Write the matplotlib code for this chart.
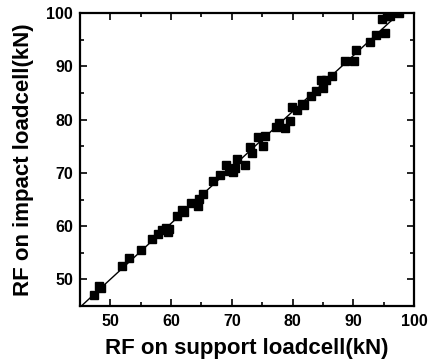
import numpy as np
import matplotlib
matplotlib.use("Agg")
import matplotlib.pyplot as plt
from matplotlib.ticker import MultipleLocator

plt.rcParams.update({
    "font.family": ["Liberation Sans", "DejaVu Sans"],
    "font.weight": "bold",
})

# RF readings (kN): support loadcell vs impact loadcell
rf_support = [47.4, 48.2, 48.4, 52.0, 53.1, 55.0, 56.9, 57.8, 58.5, 59.2,
              59.7, 59.5, 61.0, 61.8, 62.1, 63.3, 64.4, 64.6, 65.3, 66.9,
              68.1, 69.1, 69.5, 70.2, 70.5, 70.8, 72.2, 73.0, 73.3, 74.4,
              75.2, 75.5, 77.2, 77.7, 78.7, 79.6, 79.9, 80.7, 81.5, 81.9,
              83.1, 83.8, 84.7, 85.0, 85.5, 86.5, 88.7, 90.1, 90.4, 92.7,
              93.7, 95.3, 94.8, 95.6, 96.0, 97.5]
rf_impact = [47.1, 48.8, 48.4, 52.6, 54.0, 55.5, 57.6, 58.5, 59.2, 59.6,
             59.5, 58.9, 62.0, 63.0, 62.6, 64.3, 63.8, 65.2, 66.1, 68.4,
             69.6, 71.4, 70.4, 70.1, 71.0, 72.6, 71.5, 74.8, 73.8, 76.8,
             75.1, 76.9, 78.7, 79.3, 78.5, 79.7, 82.4, 81.9, 82.9, 82.7,
             84.4, 85.3, 87.5, 86.0, 87.5, 88.2, 91.1, 91.0, 93.0, 94.5,
             95.9, 96.3, 98.8, 99.4, 99.5, 100.0]

x = np.array(rf_support)
y = np.array(rf_impact)
slope, icpt = np.polyfit(x, y, 1)

fig = plt.figure(figsize=(4.34, 3.64), dpi=100)
ax = fig.add_axes([0.184, 0.159, 0.770, 0.805])

ax.plot(x, y, "s", color="black", ms=6.3, mec="black", zorder=3)
xf = np.array([40.0, 105.0])
ax.plot(xf, slope * xf + icpt, color="black", lw=1.0, zorder=2)

ax.set_xlim(45, 100)
ax.set_ylim(45, 100)
ax.xaxis.set_major_locator(MultipleLocator(10))
ax.xaxis.set_minor_locator(MultipleLocator(5))
ax.yaxis.set_major_locator(MultipleLocator(10))
ax.yaxis.set_minor_locator(MultipleLocator(5))
ax.tick_params(which="both", direction="in", top=True, right=True,
               width=1.2, labelsize=11.5)
ax.tick_params(axis="x", which="major", pad=6)
ax.tick_params(axis="y", which="major", pad=5)
ax.tick_params(which="major", length=5)
ax.tick_params(which="minor", length=3)
for s in ax.spines.values():
    s.set_linewidth(1.6)

ax.set_xlabel("RF on support loadcell(kN)", fontsize=16, fontweight="bold",
              labelpad=6)
ax.set_ylabel("RF on impact loadcell(kN)", fontsize=16, fontweight="bold",
              labelpad=9)

fig.savefig("out.png", dpi=100)
